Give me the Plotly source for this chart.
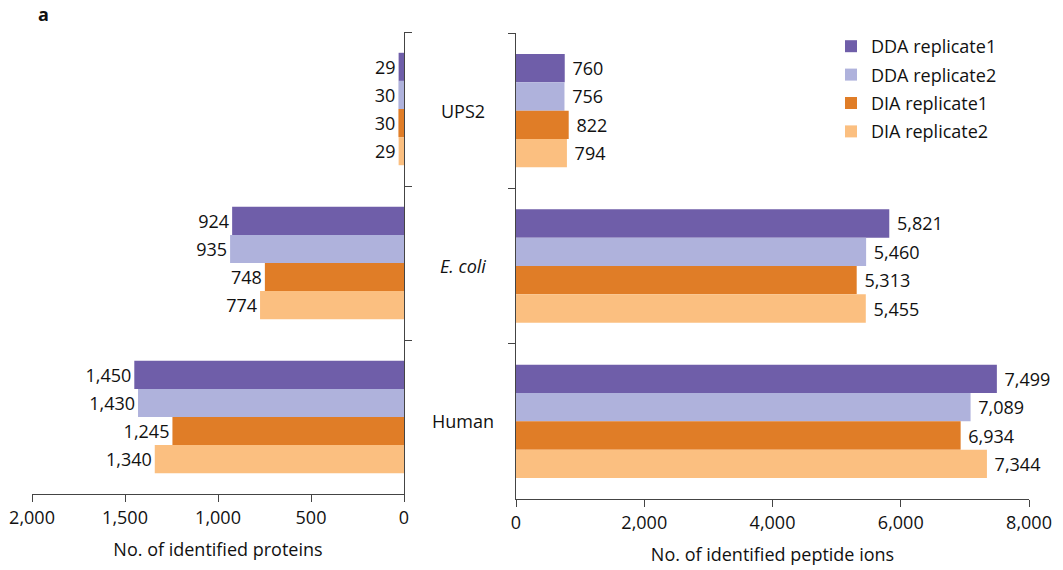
import plotly.graph_objects as go

categories = ["UPS2", "E. coli", "Human"]
category_labels = ["UPS2", "<i>E. coli</i>", "Human"]
series_names = ["DDA replicate1", "DDA replicate2", "DIA replicate1", "DIA replicate2"]
series_colors = ["#6F5EA9", "#AFB2DC", "#E07D27", "#FBBF80"]

proteins_dda1 = [29, 924, 1450]
proteins_dda2 = [30, 935, 1430]
proteins_dia1 = [30, 748, 1245]
proteins_dia2 = [29, 774, 1340]

peptides_dda1 = [760, 5821, 7499]
peptides_dda2 = [756, 5460, 7089]
peptides_dia1 = [822, 5313, 6934]
peptides_dia2 = [794, 5455, 7344]

protein_series = [proteins_dda1, proteins_dda2, proteins_dia1, proteins_dia2]
peptide_series = [peptides_dda1, peptides_dda2, peptides_dia1, peptides_dia2]

left_ticks = [2000, 1500, 1000, 500, 0]
right_ticks = [0, 2000, 4000, 6000, 8000]

FONT = "Open Sans"
FS = 18
TXT = "#111"

fig = go.Figure()
for name, color, vals in zip(series_names, series_colors, protein_series):
    fig.add_trace(go.Bar(
        y=categories, x=vals, orientation="h", name=name,
        marker=dict(color=color, line=dict(width=0)),
        texttemplate="%{x:,}", textposition="outside", cliponaxis=False,
        constraintext="none",
        textfont=dict(family=FONT, size=FS, color=TXT),
        xaxis="x", yaxis="y", showlegend=False, legendgroup=name,
    ))
for name, color, vals in zip(series_names, series_colors, peptide_series):
    fig.add_trace(go.Bar(
        y=categories, x=vals, orientation="h", name=name,
        marker=dict(color=color, line=dict(width=0)),
        texttemplate="\u00a0%{x:,}", textposition="outside", cliponaxis=False,
        constraintext="none",
        textfont=dict(family=FONT, size=FS, color=TXT),
        xaxis="x2", yaxis="y2", showlegend=True, legendgroup=name,
    ))

W, H = 1063, 570
def px(x):
    return x / W
def py(y):
    return (H - y) / H

axis_common = dict(
    showline=True, linecolor="#444", linewidth=1.3,
    ticks="outside", ticklen=7, tickcolor="#444", tickwidth=1.3,
    showgrid=False, zeroline=False, automargin=False,
    tickfont=dict(family=FONT, size=FS, color=TXT),
)

fig.update_layout(
    width=W, height=H,
    margin=dict(l=0, r=0, t=0, b=0, autoexpand=False),
    plot_bgcolor="white", paper_bgcolor="white",
    barmode="group", bargap=0.27, bargroupgap=0,
    font=dict(family=FONT, size=FS, color=TXT),
    xaxis=dict(domain=[px(32), px(404)], range=[2000, 0], anchor="y",
               tickvals=left_ticks, tickformat=",",
               title=dict(text="No. of identified proteins",
                          font=dict(family=FONT, size=FS, color=TXT)),
               **axis_common),
    yaxis=dict(domain=[py(494), py(32)], anchor="x", side="right",
               categoryorder="array", categoryarray=categories,
               range=[2.5, -0.5], tickson="boundaries", showticklabels=False,
               **axis_common),
    xaxis2=dict(domain=[px(516), px(1029)], range=[0, 8000], anchor="y2",
                tickvals=right_ticks, tickformat=",",
                title=dict(text="No. of identified peptide ions",
                           font=dict(family=FONT, size=FS, color=TXT)),
                **axis_common),
    yaxis2=dict(domain=[py(499), py(33)], anchor="x2", side="left",
                categoryorder="array", categoryarray=categories,
                range=[2.5, -0.5], tickson="boundaries", showticklabels=False,
                **axis_common),
    legend=dict(x=px(831), y=py(28), xanchor="left", yanchor="top",
                tracegroupgap=2, traceorder="grouped",
                font=dict(family=FONT, size=FS, color=TXT),
                bgcolor="rgba(0,0,0,0)"),
)

for cat, label in zip(categories, category_labels):
    fig.add_annotation(x=px(463), xref="paper", y=cat, yref="y2",
                       text=label, showarrow=False,
                       font=dict(family=FONT, size=FS, color=TXT))

fig.add_annotation(x=px(43), xref="paper", y=py(14), yref="paper",
                   xanchor="center", yanchor="middle",
                   text="<b>a</b>", showarrow=False,
                   font=dict(family=FONT, size=18, color=TXT))

fig.write_html("out.html")
